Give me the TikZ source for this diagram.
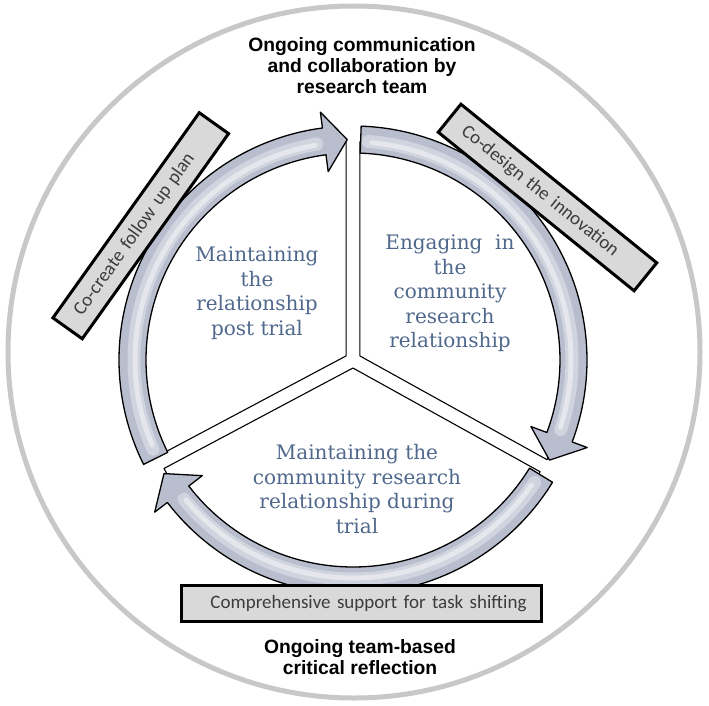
\documentclass[tikz,border=0pt]{standalone}
\usepackage{fontspec}
\setmainfont{Liberation Sans}
\newfontfamily\panelfont{DejaVu Serif}
\newfontfamily\boxfont{Carlito}
\newfontfamily\headfont{Liberation Sans}
\definecolor{ringfill}{RGB}{184,190,206}
\definecolor{paneltext}{RGB}{79,104,140}
\definecolor{boxfill}{RGB}{217,217,217}
\definecolor{boxtext}{RGB}{60,60,60}
\definecolor{outerring}{RGB}{200,200,200}
\begin{document}
\begin{tikzpicture}[x=1pt,y=1pt,
  panel/.style={draw=black, line width=1.1pt, fill=white, line join=round},
  ringarrow/.style={draw=black, line width=1.3pt, fill=ringfill, line join=round},
  shine/.style={draw=white, opacity=0.35, line width=13pt, line cap=round},
  shinecore/.style={draw=white, opacity=0.45, line width=5pt, line cap=round},
  labelbox/.style={draw=black, line width=3pt, fill=boxfill, minimum height=36pt,
    font=\boxfont\fontsize{19}{23}\selectfont, text=boxtext, inner ysep=0pt},
  paneltxt/.style={align=center, font=\panelfont\fontsize{20}{24.5}\selectfont, text=paneltext},
  headtxt/.style={align=center, font=\headfont\bfseries\fontsize{19.3}{21}\selectfont}
]
\useasboundingbox (-353,-345) rectangle (356,360);
\fill[white] (-353,-345) rectangle (356,360);

% outer ring
\draw[outerring, line width=5pt] (1,8) circle[radius=346];

% three exploded pie panels
\begin{scope}[shift={(149:8)}]
  \draw[panel] (0,0) -- (90:214) arc[start angle=90, end angle=208, radius=214] -- cycle;
\end{scope}
\begin{scope}[shift={(30.5:8)}]
  \draw[panel] (0,0) -- (-29:214) arc[start angle=-29, end angle=90, radius=214] -- cycle;
\end{scope}
\begin{scope}[shift={(269.5:8)}]
  \draw[panel] (0,0) -- (208:214) arc[start angle=208, end angle=331, radius=214] -- cycle;
\end{scope}

% circular arrows
% left arrow
\draw[ringarrow] (206.5:207) arc[start angle=206.5, end angle=97.5, radius=207]
  -- (97.5:190) -- (91.5:220.5) -- (97.5:250) -- (97.5:234)
  arc[start angle=97.5, end angle=206.5, radius=234] -- cycle;
\draw[shine] (204:219) arc[start angle=204, end angle=99.5, radius=219];
\draw[shinecore] (203:218) arc[start angle=203, end angle=100, radius=218];
% right arrow
\draw[ringarrow] (88:207) arc[start angle=88, end angle=-20.5, radius=207]
  -- (-20.5:190) -- (-27:220.5) -- (-20.5:250) -- (-20.5:234)
  arc[start angle=-20.5, end angle=88, radius=234] -- cycle;
\draw[shine] (86:219) arc[start angle=86, end angle=-18.5, radius=219];
\draw[shinecore] (85:218) arc[start angle=85, end angle=-18, radius=218];
% bottom arrow
\draw[ringarrow] (328.5:207) arc[start angle=328.5, end angle=217.5, radius=207]
  -- (217.5:190) -- (211:220.5) -- (217.5:250) -- (217.5:234)
  arc[start angle=217.5, end angle=328.5, radius=234] -- cycle;
\draw[shine] (326:219) arc[start angle=326, end angle=219.5, radius=219];
\draw[shinecore] (325:218) arc[start angle=325, end angle=220, radius=218];

% boxes
\node[labelbox, minimum width=360pt, text width=342pt, inner xsep=9pt, align=right]
  (support) at (8.5,-243.5) {Comprehensive support for task shifting\hspace*{6pt}};
\node[labelbox, rotate=-39, minimum width=252pt, text width=216pt, inner xsep=18pt, align=left]
  (codesign) at (194.5,162.5) {Co-design the innovation};
\node[labelbox, rotate=54.5, minimum width=252pt, text width=216pt, inner xsep=18pt, align=left]
  (cocreate) at (-212.25,134.25) {Co-create follow up plan};

% headings
\node[headtxt] (comm) at (9,294) {Ongoing communication\\and collaboration by\\research team};
\node[headtxt] (reflect) at (7,-297.5) {Ongoing team-based\\critical reflection};

% panel texts
\node[paneltxt] (post) at (-96,67) {Maintaining\\the\\relationship\\post trial};
\node[paneltxt] (engage) at (97,66.5) {Engaging\ \ in\\the\\community\\research\\relationship};
\node[paneltxt] (during) at (4,-129) {Maintaining the\\community research\\relationship during\\trial};
\end{tikzpicture}
\end{document}
